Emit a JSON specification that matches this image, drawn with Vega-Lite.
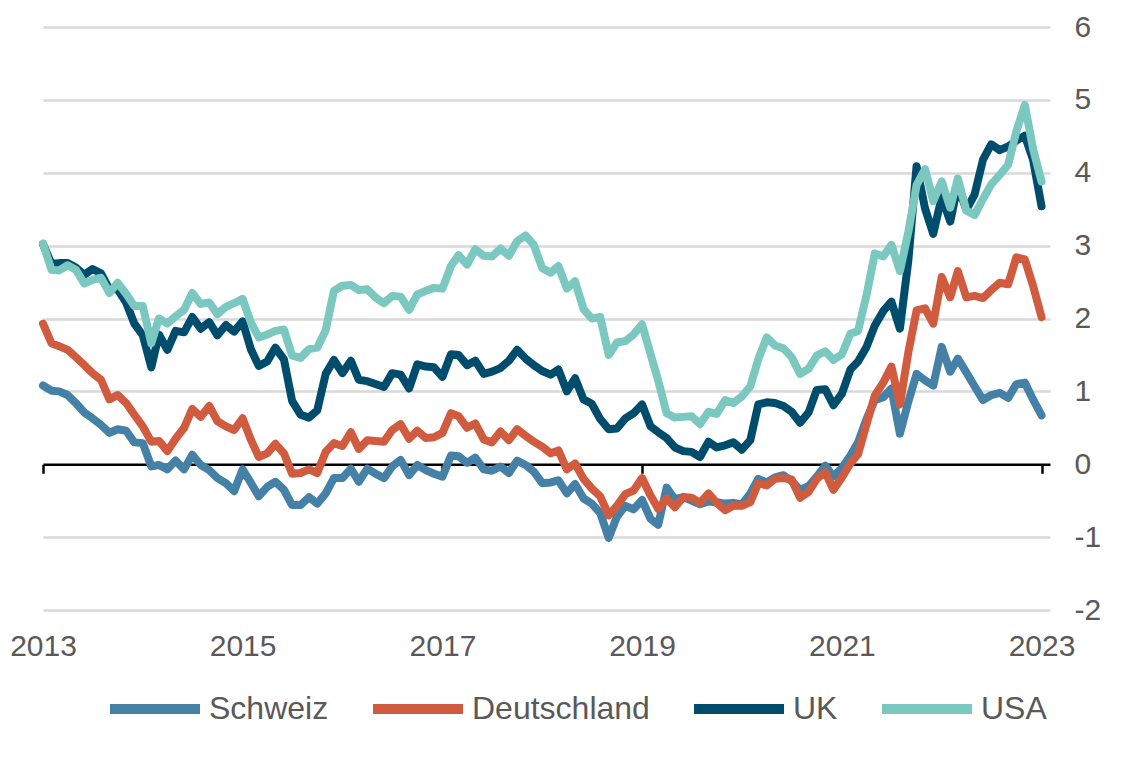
{
  "$schema": "https://vega.github.io/schema/vega-lite/v6.json",
  "width": 1007,
  "height": 583,
  "autosize": {"type": "none"},
  "padding": {"left": 43, "top": 27, "right": 86, "bottom": 148},
  "background": "white",
  "config": {
    "view": {"stroke": null},
    "font": "Liberation Sans"
  },
  "data": {
    "values": [
      {"d": "2013-01-01", "Schweiz": 1.08, "Deutschland": 1.93, "UK": 3.02, "USA": 3.03},
      {"d": "2013-02-01", "Schweiz": 1.01, "Deutschland": 1.66, "UK": 2.75, "USA": 2.67},
      {"d": "2013-03-01", "Schweiz": 1.0, "Deutschland": 1.62, "UK": 2.76, "USA": 2.66},
      {"d": "2013-04-01", "Schweiz": 0.95, "Deutschland": 1.57, "UK": 2.76, "USA": 2.73},
      {"d": "2013-05-01", "Schweiz": 0.84, "Deutschland": 1.47, "UK": 2.7, "USA": 2.67},
      {"d": "2013-06-01", "Schweiz": 0.71, "Deutschland": 1.36, "UK": 2.6, "USA": 2.48},
      {"d": "2013-07-01", "Schweiz": 0.63, "Deutschland": 1.25, "UK": 2.68, "USA": 2.53},
      {"d": "2013-08-01", "Schweiz": 0.54, "Deutschland": 1.16, "UK": 2.62, "USA": 2.56},
      {"d": "2013-09-01", "Schweiz": 0.43, "Deutschland": 0.89, "UK": 2.4, "USA": 2.35},
      {"d": "2013-10-01", "Schweiz": 0.48, "Deutschland": 0.95, "UK": 2.4, "USA": 2.49},
      {"d": "2013-11-01", "Schweiz": 0.46, "Deutschland": 0.84, "UK": 2.22, "USA": 2.34},
      {"d": "2013-12-01", "Schweiz": 0.3, "Deutschland": 0.68, "UK": 1.93, "USA": 2.17},
      {"d": "2014-01-01", "Schweiz": 0.29, "Deutschland": 0.52, "UK": 1.77, "USA": 2.17},
      {"d": "2014-02-01", "Schweiz": -0.03, "Deutschland": 0.31, "UK": 1.33, "USA": 1.66},
      {"d": "2014-03-01", "Schweiz": -0.01, "Deutschland": 0.32, "UK": 1.78, "USA": 2.0},
      {"d": "2014-04-01", "Schweiz": -0.07, "Deutschland": 0.18, "UK": 1.57, "USA": 1.93},
      {"d": "2014-05-01", "Schweiz": 0.05, "Deutschland": 0.35, "UK": 1.83, "USA": 2.03},
      {"d": "2014-06-01", "Schweiz": -0.07, "Deutschland": 0.5, "UK": 1.81, "USA": 2.12},
      {"d": "2014-07-01", "Schweiz": 0.13, "Deutschland": 0.76, "UK": 2.02, "USA": 2.35},
      {"d": "2014-08-01", "Schweiz": -0.01, "Deutschland": 0.65, "UK": 1.86, "USA": 2.2},
      {"d": "2014-09-01", "Schweiz": -0.08, "Deutschland": 0.8, "UK": 1.95, "USA": 2.22},
      {"d": "2014-10-01", "Schweiz": -0.19, "Deutschland": 0.59, "UK": 1.77, "USA": 2.06},
      {"d": "2014-11-01", "Schweiz": -0.26, "Deutschland": 0.52, "UK": 1.91, "USA": 2.16},
      {"d": "2014-12-01", "Schweiz": -0.37, "Deutschland": 0.47, "UK": 1.82, "USA": 2.21},
      {"d": "2015-01-01", "Schweiz": -0.07, "Deutschland": 0.63, "UK": 1.96, "USA": 2.27},
      {"d": "2015-02-01", "Schweiz": -0.26, "Deutschland": 0.33, "UK": 1.57, "USA": 1.94},
      {"d": "2015-03-01", "Schweiz": -0.44, "Deutschland": 0.1, "UK": 1.35, "USA": 1.74},
      {"d": "2015-04-01", "Schweiz": -0.31, "Deutschland": 0.15, "UK": 1.41, "USA": 1.78},
      {"d": "2015-05-01", "Schweiz": -0.24, "Deutschland": 0.28, "UK": 1.6, "USA": 1.83},
      {"d": "2015-06-01", "Schweiz": -0.35, "Deutschland": 0.15, "UK": 1.44, "USA": 1.85},
      {"d": "2015-07-01", "Schweiz": -0.56, "Deutschland": -0.13, "UK": 0.87, "USA": 1.49},
      {"d": "2015-08-01", "Schweiz": -0.56, "Deutschland": -0.12, "UK": 0.68, "USA": 1.46},
      {"d": "2015-09-01", "Schweiz": -0.45, "Deutschland": -0.07, "UK": 0.64, "USA": 1.58},
      {"d": "2015-10-01", "Schweiz": -0.54, "Deutschland": -0.12, "UK": 0.74, "USA": 1.6},
      {"d": "2015-11-01", "Schweiz": -0.4, "Deutschland": 0.17, "UK": 1.24, "USA": 1.84},
      {"d": "2015-12-01", "Schweiz": -0.19, "Deutschland": 0.29, "UK": 1.43, "USA": 2.38},
      {"d": "2016-01-01", "Schweiz": -0.19, "Deutschland": 0.25, "UK": 1.25, "USA": 2.45},
      {"d": "2016-02-01", "Schweiz": -0.06, "Deutschland": 0.44, "UK": 1.42, "USA": 2.46},
      {"d": "2016-03-01", "Schweiz": -0.24, "Deutschland": 0.21, "UK": 1.16, "USA": 2.39},
      {"d": "2016-04-01", "Schweiz": -0.06, "Deutschland": 0.33, "UK": 1.14, "USA": 2.4},
      {"d": "2016-05-01", "Schweiz": -0.13, "Deutschland": 0.32, "UK": 1.1, "USA": 2.29},
      {"d": "2016-06-01", "Schweiz": -0.19, "Deutschland": 0.31, "UK": 1.06, "USA": 2.21},
      {"d": "2016-07-01", "Schweiz": -0.03, "Deutschland": 0.47, "UK": 1.25, "USA": 2.31},
      {"d": "2016-08-01", "Schweiz": 0.06, "Deutschland": 0.55, "UK": 1.23, "USA": 2.3},
      {"d": "2016-09-01", "Schweiz": -0.15, "Deutschland": 0.35, "UK": 1.04, "USA": 2.12},
      {"d": "2016-10-01", "Schweiz": -0.01, "Deutschland": 0.46, "UK": 1.37, "USA": 2.33},
      {"d": "2016-11-01", "Schweiz": -0.08, "Deutschland": 0.36, "UK": 1.34, "USA": 2.38},
      {"d": "2016-12-01", "Schweiz": -0.13, "Deutschland": 0.37, "UK": 1.33, "USA": 2.42},
      {"d": "2017-01-01", "Schweiz": -0.17, "Deutschland": 0.43, "UK": 1.2, "USA": 2.41},
      {"d": "2017-02-01", "Schweiz": 0.12, "Deutschland": 0.7, "UK": 1.51, "USA": 2.72},
      {"d": "2017-03-01", "Schweiz": 0.11, "Deutschland": 0.66, "UK": 1.5, "USA": 2.87},
      {"d": "2017-04-01", "Schweiz": 0.02, "Deutschland": 0.5, "UK": 1.36, "USA": 2.74},
      {"d": "2017-05-01", "Schweiz": 0.09, "Deutschland": 0.56, "UK": 1.42, "USA": 2.95},
      {"d": "2017-06-01", "Schweiz": -0.07, "Deutschland": 0.34, "UK": 1.24, "USA": 2.86},
      {"d": "2017-07-01", "Schweiz": -0.09, "Deutschland": 0.3, "UK": 1.27, "USA": 2.85},
      {"d": "2017-08-01", "Schweiz": -0.03, "Deutschland": 0.45, "UK": 1.32, "USA": 2.96},
      {"d": "2017-09-01", "Schweiz": -0.12, "Deutschland": 0.33, "UK": 1.42, "USA": 2.86},
      {"d": "2017-10-01", "Schweiz": 0.05, "Deutschland": 0.48, "UK": 1.57, "USA": 3.06},
      {"d": "2017-11-01", "Schweiz": -0.01, "Deutschland": 0.39, "UK": 1.45, "USA": 3.14},
      {"d": "2017-12-01", "Schweiz": -0.1, "Deutschland": 0.31, "UK": 1.36, "USA": 3.01},
      {"d": "2018-01-01", "Schweiz": -0.26, "Deutschland": 0.24, "UK": 1.28, "USA": 2.69},
      {"d": "2018-02-01", "Schweiz": -0.25, "Deutschland": 0.15, "UK": 1.23, "USA": 2.63},
      {"d": "2018-03-01", "Schweiz": -0.22, "Deutschland": 0.19, "UK": 1.3, "USA": 2.72},
      {"d": "2018-04-01", "Schweiz": -0.4, "Deutschland": -0.07, "UK": 1.0, "USA": 2.41},
      {"d": "2018-05-01", "Schweiz": -0.27, "Deutschland": 0.01, "UK": 1.18, "USA": 2.51},
      {"d": "2018-06-01", "Schweiz": -0.47, "Deutschland": -0.2, "UK": 0.89, "USA": 2.13},
      {"d": "2018-07-01", "Schweiz": -0.54, "Deutschland": -0.33, "UK": 0.83, "USA": 2.0},
      {"d": "2018-08-01", "Schweiz": -0.67, "Deutschland": -0.44, "UK": 0.62, "USA": 2.02},
      {"d": "2018-09-01", "Schweiz": -1.01, "Deutschland": -0.7, "UK": 0.48, "USA": 1.5},
      {"d": "2018-10-01", "Schweiz": -0.72, "Deutschland": -0.57, "UK": 0.49, "USA": 1.67},
      {"d": "2018-11-01", "Schweiz": -0.57, "Deutschland": -0.41, "UK": 0.63, "USA": 1.69},
      {"d": "2018-12-01", "Schweiz": -0.62, "Deutschland": -0.36, "UK": 0.7, "USA": 1.78},
      {"d": "2019-01-01", "Schweiz": -0.49, "Deutschland": -0.19, "UK": 0.82, "USA": 1.92},
      {"d": "2019-02-01", "Schweiz": -0.75, "Deutschland": -0.43, "UK": 0.52, "USA": 1.51},
      {"d": "2019-03-01", "Schweiz": -0.83, "Deutschland": -0.61, "UK": 0.44, "USA": 1.15},
      {"d": "2019-04-01", "Schweiz": -0.32, "Deutschland": -0.47, "UK": 0.36, "USA": 0.7},
      {"d": "2019-05-01", "Schweiz": -0.48, "Deutschland": -0.59, "UK": 0.23, "USA": 0.64},
      {"d": "2019-06-01", "Schweiz": -0.45, "Deutschland": -0.45, "UK": 0.18, "USA": 0.65},
      {"d": "2019-07-01", "Schweiz": -0.5, "Deutschland": -0.46, "UK": 0.17, "USA": 0.66},
      {"d": "2019-08-01", "Schweiz": -0.55, "Deutschland": -0.53, "UK": 0.1, "USA": 0.55},
      {"d": "2019-09-01", "Schweiz": -0.51, "Deutschland": -0.4, "UK": 0.31, "USA": 0.72},
      {"d": "2019-10-01", "Schweiz": -0.52, "Deutschland": -0.53, "UK": 0.23, "USA": 0.69},
      {"d": "2019-11-01", "Schweiz": -0.54, "Deutschland": -0.63, "UK": 0.26, "USA": 0.88},
      {"d": "2019-12-01", "Schweiz": -0.53, "Deutschland": -0.57, "UK": 0.3, "USA": 0.84},
      {"d": "2020-01-01", "Schweiz": -0.55, "Deutschland": -0.57, "UK": 0.2, "USA": 0.93},
      {"d": "2020-02-01", "Schweiz": -0.4, "Deutschland": -0.52, "UK": 0.33, "USA": 1.07},
      {"d": "2020-03-01", "Schweiz": -0.2, "Deutschland": -0.26, "UK": 0.82, "USA": 1.44},
      {"d": "2020-04-01", "Schweiz": -0.25, "Deutschland": -0.29, "UK": 0.85, "USA": 1.74},
      {"d": "2020-05-01", "Schweiz": -0.18, "Deutschland": -0.2, "UK": 0.84, "USA": 1.63},
      {"d": "2020-06-01", "Schweiz": -0.15, "Deutschland": -0.19, "UK": 0.8, "USA": 1.59},
      {"d": "2020-07-01", "Schweiz": -0.23, "Deutschland": -0.21, "UK": 0.72, "USA": 1.47},
      {"d": "2020-08-01", "Schweiz": -0.35, "Deutschland": -0.46, "UK": 0.57, "USA": 1.24},
      {"d": "2020-09-01", "Schweiz": -0.3, "Deutschland": -0.38, "UK": 0.71, "USA": 1.31},
      {"d": "2020-10-01", "Schweiz": -0.17, "Deutschland": -0.2, "UK": 1.02, "USA": 1.49},
      {"d": "2020-11-01", "Schweiz": -0.02, "Deutschland": -0.11, "UK": 1.03, "USA": 1.55},
      {"d": "2020-12-01", "Schweiz": -0.17, "Deutschland": -0.35, "UK": 0.81, "USA": 1.43},
      {"d": "2021-01-01", "Schweiz": -0.05, "Deutschland": -0.18, "UK": 0.97, "USA": 1.51},
      {"d": "2021-02-01", "Schweiz": 0.12, "Deutschland": 0.01, "UK": 1.3, "USA": 1.79},
      {"d": "2021-03-01", "Schweiz": 0.3, "Deutschland": 0.14, "UK": 1.41, "USA": 1.83},
      {"d": "2021-04-01", "Schweiz": 0.62, "Deutschland": 0.55, "UK": 1.61, "USA": 2.32},
      {"d": "2021-05-01", "Schweiz": 0.88, "Deutschland": 0.94, "UK": 1.9, "USA": 2.89},
      {"d": "2021-06-01", "Schweiz": 0.92, "Deutschland": 1.12, "UK": 2.1, "USA": 2.85},
      {"d": "2021-07-01", "Schweiz": 1.04, "Deutschland": 1.34, "UK": 2.23, "USA": 3.01},
      {"d": "2021-08-01", "Schweiz": 0.42, "Deutschland": 0.82, "UK": 1.86, "USA": 2.65},
      {"d": "2021-09-01", "Schweiz": 0.86, "Deutschland": 1.54, "UK": 2.8, "USA": 3.19},
      {"d": "2021-10-01", "Schweiz": 1.24, "Deutschland": 2.11, "UK": 4.09, "USA": 3.83},
      {"d": "2021-11-01", "Schweiz": 1.15, "Deutschland": 2.14, "UK": 3.51, "USA": 4.05},
      {"d": "2021-12-01", "Schweiz": 1.08, "Deutschland": 1.93, "UK": 3.16, "USA": 3.61},
      {"d": "2022-01-01", "Schweiz": 1.61, "Deutschland": 2.57, "UK": 3.67, "USA": 3.88},
      {"d": "2022-02-01", "Schweiz": 1.27, "Deutschland": 2.29, "UK": 3.33, "USA": 3.52},
      {"d": "2022-03-01", "Schweiz": 1.45, "Deutschland": 2.65, "UK": 3.83, "USA": 3.92},
      {"d": "2022-04-01", "Schweiz": 1.26, "Deutschland": 2.29, "UK": 3.49, "USA": 3.48},
      {"d": "2022-05-01", "Schweiz": 1.07, "Deutschland": 2.31, "UK": 3.7, "USA": 3.42},
      {"d": "2022-06-01", "Schweiz": 0.88, "Deutschland": 2.28, "UK": 4.18, "USA": 3.64},
      {"d": "2022-07-01", "Schweiz": 0.95, "Deutschland": 2.39, "UK": 4.39, "USA": 3.84},
      {"d": "2022-08-01", "Schweiz": 0.98, "Deutschland": 2.49, "UK": 4.31, "USA": 3.97},
      {"d": "2022-09-01", "Schweiz": 0.91, "Deutschland": 2.47, "UK": 4.36, "USA": 4.11},
      {"d": "2022-10-01", "Schweiz": 1.1, "Deutschland": 2.84, "UK": 4.44, "USA": 4.57},
      {"d": "2022-11-01", "Schweiz": 1.12, "Deutschland": 2.81, "UK": 4.51, "USA": 4.93},
      {"d": "2022-12-01", "Schweiz": 0.89, "Deutschland": 2.45, "UK": 4.18, "USA": 4.33},
      {"d": "2023-01-01", "Schweiz": 0.67, "Deutschland": 2.02, "UK": 3.54, "USA": 3.88}
    ]
  },
  "transform": [
    {"fold": ["Schweiz", "Deutschland", "UK", "USA"], "as": ["land", "wert"]}
  ],
  "mark": {"type": "line", "strokeWidth": 8, "strokeJoin": "round", "strokeCap": "round"},
  "encoding": {
    "x": {
      "field": "d",
      "type": "temporal",
      "timeUnit": "utcyearmonth",
      "scale": {"domain": [{"year": 2013, "month": 1, "date": 1, "utc": true}, {"year": 2023, "month": 2, "date": 1, "utc": true}]},
      "axis": {
        "title": null,
        "orient": "bottom",
        "offset": -145.75,
        "values": [
          {"year": 2013, "month": 1, "date": 1, "utc": true},
          {"year": 2015, "month": 1, "date": 1, "utc": true},
          {"year": 2017, "month": 1, "date": 1, "utc": true},
          {"year": 2019, "month": 1, "date": 1, "utc": true},
          {"year": 2021, "month": 1, "date": 1, "utc": true},
          {"year": 2023, "month": 1, "date": 1, "utc": true}
        ],
        "labelExpr": "utcFormat(datum.value, '%Y')",
        "grid": false,
        "domain": true,
        "domainColor": "#000000",
        "domainWidth": 2.5,
        "ticks": true,
        "tickColor": "#000000",
        "tickWidth": 2.5,
        "tickSize": 9,
        "labelPadding": 158,
        "labelFontSize": 30,
        "labelColor": "#595959",
        "labelFont": "Liberation Sans",
        "labelFlush": false,
        "labelOverlap": false
      }
    },
    "y": {
      "field": "wert",
      "type": "quantitative",
      "scale": {"domain": [-2, 6], "nice": false, "zero": false},
      "axis": {
        "title": null,
        "orient": "right",
        "values": [-2, -1, 0, 1, 2, 3, 4, 5, 6],
        "labelExpr": "'' + datum.value",
        "grid": true,
        "gridColor": {"condition": {"test": "datum.value === 0", "value": "transparent"}, "value": "#d9d9d9"},
        "gridWidth": 2.5,
        "domain": false,
        "ticks": false,
        "labelAlign": "left",
        "labelPadding": 24,
        "labelFontSize": 30,
        "labelColor": "#595959",
        "labelFont": "Liberation Sans"
      }
    },
    "color": {
      "field": "land",
      "type": "nominal",
      "sort": ["Schweiz", "Deutschland", "UK", "USA"],
      "scale": {"domain": ["Schweiz", "Deutschland", "UK", "USA"], "range": ["#4581a6", "#d15b3f", "#004c6d", "#7bc8c1"]},
      "legend": {
        "title": null,
        "orient": "none",
        "direction": "horizontal",
        "legendX": 62,
        "legendY": 632,
        "symbolType": "stroke",
        "symbolSize": 8100,
        "symbolStrokeWidth": 10,
        "labelFontSize": 32,
        "labelColor": "#595959",
        "labelFont": "Liberation Sans",
        "labelOffset": 4,
        "labelLimit": 0,
        "columnPadding": 24
      }
    }
  }
}
